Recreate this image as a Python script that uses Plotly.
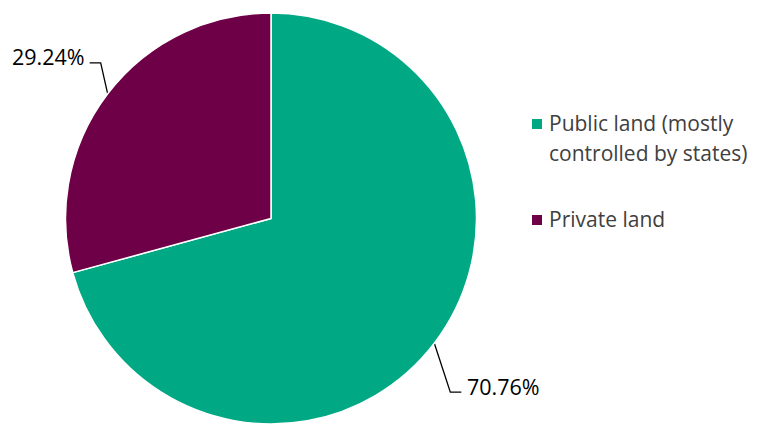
import math
import plotly.graph_objects as go

# Land ownership shares (percent)
categories = ["Public land (mostly controlled by states)", "Private land"]
legend_lines = [["Public land (mostly", "controlled by states)"], ["Private land"]]
shares = [70.76, 29.24]
colors = ["#00A884", "#6D0046"]

W, H = 759, 424
cx, top = 271, 13
radius = (H - top) / 2
cy = top + radius

fig = go.Figure()
fig.add_trace(go.Pie(
    labels=categories,
    values=shares,
    sort=False,
    direction="clockwise",
    rotation=0,
    textinfo="none",
    hoverinfo="label+percent",
    marker=dict(colors=colors, line=dict(color="white", width=1.5)),
    domain=dict(x=[(cx - radius) / W, (cx + radius) / W], y=[0, (H - top) / H]),
    showlegend=False,
))

# Leader lines and percentage labels, anchored at each slice's mid-angle on the rim
elbow_offsets = [(16, 49), (-7, -31)]
tail = [11, -11]
total = sum(shares)
cum = 0.0
for i, v in enumerate(shares):
    mid = (cum + v / 2) / total * 2 * math.pi
    cum += v
    ex = cx + radius * math.sin(mid)
    ey = cy - radius * math.cos(mid)
    bx, by = ex + elbow_offsets[i][0], ey + elbow_offsets[i][1]
    tx = bx + tail[i]
    fig.add_trace(go.Scatter(
        x=[ex, bx, tx], y=[ey, by, by], mode="lines",
        line=dict(color="black", width=1.3), hoverinfo="skip", showlegend=False,
        xaxis="x", yaxis="y",
    ))
    fig.add_annotation(
        x=tx + (4 if tail[i] > 0 else -3), y=by - 6, xref="x", yref="y",
        text=f"{v:.2f}%", showarrow=False,
        xanchor="left" if tail[i] > 0 else "right", yanchor="middle",
        font=dict(family="Open Sans", size=21.5, color="#000000"),
    )

# Hand-placed legend
leg_x, leg_rows = 537, [124, 220]
for i, rows in enumerate(legend_lines):
    y0 = leg_rows[i]
    fig.add_shape(type="rect", xref="x", yref="y",
                  x0=leg_x - 5, x1=leg_x + 5, y0=y0 - 5, y1=y0 + 5,
                  fillcolor=colors[i], line=dict(width=0))
    for j, line in enumerate(rows):
        fig.add_annotation(
            x=leg_x + 10, y=y0 - 1 + j * 30, xref="x", yref="y",
            text=line, showarrow=False, xanchor="left", yanchor="middle",
            font=dict(family="Open Sans", size=21, color="#404040"),
        )

fig.update_layout(
    width=W, height=H,
    margin=dict(l=0, r=0, t=0, b=0),
    paper_bgcolor="white", plot_bgcolor="rgba(0,0,0,0)",
    xaxis=dict(range=[0, W], visible=False, fixedrange=True),
    yaxis=dict(range=[H, 0], visible=False, fixedrange=True),
)

fig.write_html("out.html")
